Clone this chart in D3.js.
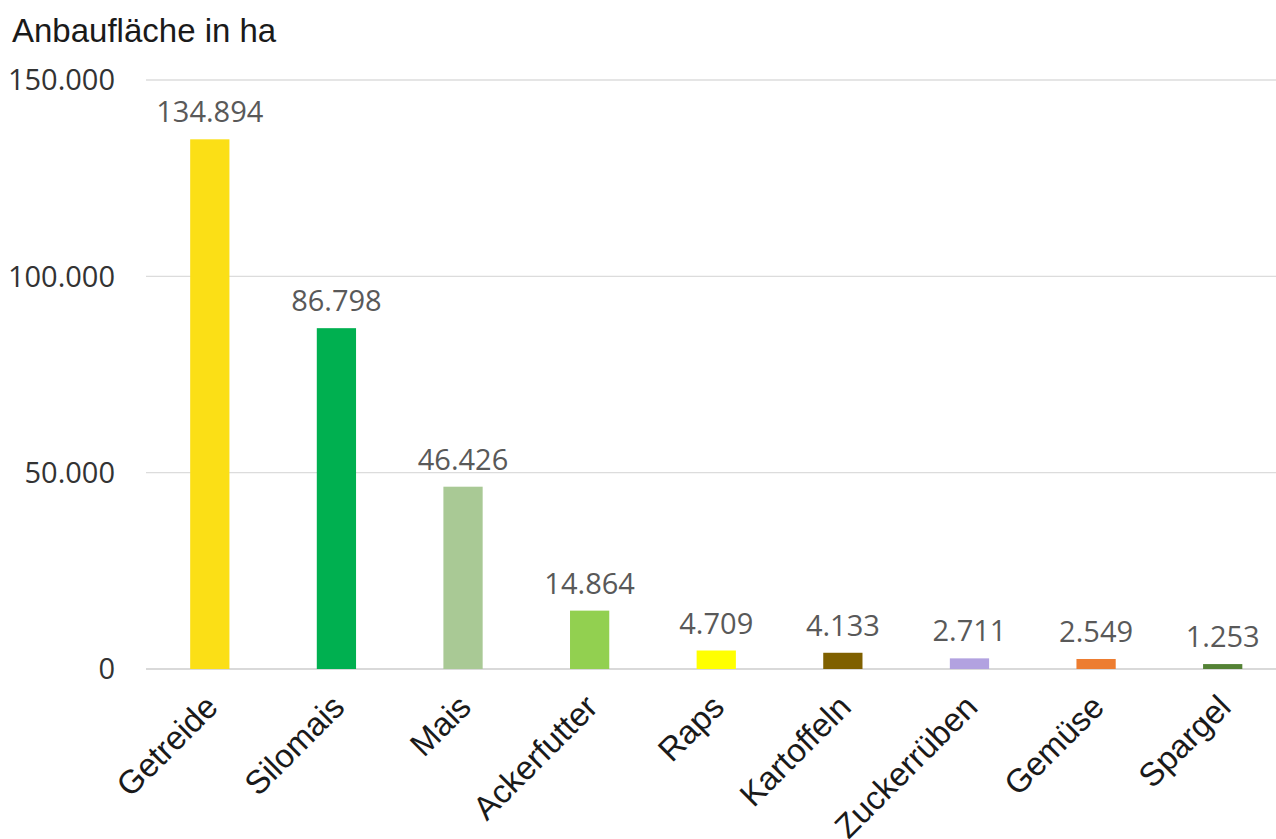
<!DOCTYPE html>
<html>
<head>
<meta charset="utf-8">
<script src="https://cdn.jsdelivr.net/npm/d3@7"></script>
<style>
  html, body { margin: 0; padding: 0; background: #fff; }
  svg { display: block; }
</style>
</head>
<body>
<svg id="chart" width="1276" height="839"></svg>
<script>
const categories = ["Getreide", "Silomais", "Mais", "Ackerfutter", "Raps", "Kartoffeln", "Zuckerrüben", "Gemüse", "Spargel"];
const values = [134894, 86798, 46426, 14864, 4709, 4133, 2711, 2549, 1253];
const colors = ["#FBDF16", "#00B050", "#A9C995", "#92D050", "#FFFF00", "#7F6000", "#B2A2E0", "#ED7D31", "#548235"];
const yTicks = [0, 50000, 100000, 150000];
const yTitle = "Anbaufläche in ha";

const de = d3.formatLocale({decimal: ",", thousands: ".", grouping: [3], currency: ["", " €"]});
const fmt = de.format(",.0f");

const svg = d3.select("#chart");
const x = d3.scaleBand().domain(categories).range([146.5, 1286]).paddingInner(0.69).paddingOuter(0.345);
const y = d3.scaleLinear().domain([0, 150000]).range([669, 80]);

// gridlines
svg.append("g")
  .selectAll("line")
  .data(yTicks)
  .join("line")
  .attr("x1", 146).attr("x2", 1276)
  .attr("y1", d => y(d)).attr("y2", d => y(d))
  .attr("stroke", d => d === 0 ? "#d9d9d9" : "#dcdcdc")
  .attr("stroke-width", d => d === 0 ? 2 : 1.3);

// y axis labels
const yAxis = d3.axisLeft(y).tickValues(yTicks).tickFormat(fmt).tickSize(0).tickPadding(0);
const gy = svg.append("g").attr("transform", "translate(115,0)").call(yAxis);
gy.select(".domain").remove();
gy.selectAll("text")
  .attr("font-family", "'Open Sans', sans-serif")
  .attr("font-size", 29)
  .attr("fill", "#333")
  .attr("dy", "0.34em");

// title
svg.append("text")
  .attr("x", 12).attr("y", 42)
  .attr("font-family", "'Liberation Sans', Arial, sans-serif")
  .attr("font-size", 33)
  .attr("fill", "#1a1a1a")
  .text(yTitle);

// bars
svg.append("g")
  .selectAll("rect")
  .data(values)
  .join("rect")
  .attr("x", (d, i) => x(categories[i]))
  .attr("width", x.bandwidth())
  .attr("y", d => y(d))
  .attr("height", d => y(0) - y(d))
  .attr("fill", (d, i) => colors[i]);

// value labels
svg.append("g")
  .selectAll("text")
  .data(values)
  .join("text")
  .attr("x", (d, i) => x(categories[i]) + x.bandwidth() / 2)
  .attr("y", d => y(d) - 17)
  .attr("text-anchor", "middle")
  .attr("font-family", "'Open Sans', sans-serif")
  .attr("font-size", 29)
  .attr("fill", "#595959")
  .text(d => fmt(d));

// category labels
const xAxis = d3.axisBottom(x).tickSize(0).tickPadding(0);
const gx = svg.append("g").attr("transform", "translate(0,669)").call(xAxis);
gx.select(".domain").remove();
gx.selectAll("text")
  .attr("font-family", "'Liberation Sans', Arial, sans-serif")
  .attr("font-size", 33)
  .attr("fill", "#1a1a1a")
  .attr("text-anchor", "end")
  .attr("dy", null)
  .attr("y", 0)
  .attr("transform", "translate(10,40) rotate(-45)");
</script>
</body>
</html>
